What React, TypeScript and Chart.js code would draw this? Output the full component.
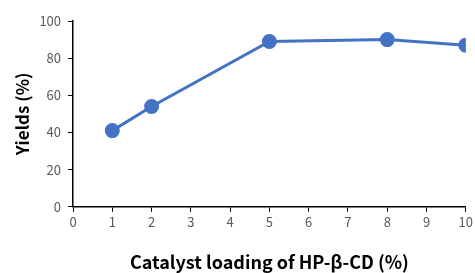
import React, { useEffect, useRef } from "react";
import { Chart, registerables } from "chart.js";

Chart.register(...registerables);

const loadings = [1, 2, 5, 8, 10];
const yields = [41, 54, 89, 90, 87];
const xTitle = "Catalyst loading of HP-β-CD (%)";
const yTitle = "Yields (%)";

export default function App() {
  const ref = useRef<HTMLCanvasElement | null>(null);
  useEffect(() => {
    document.body.style.margin = "0";
    const ctx = ref.current!.getContext("2d")!;
    const chart = new Chart(ctx, {
      type: "line",
      data: {
        datasets: [
          {
            data: loadings.map((x, i) => ({ x, y: yields[i] })),
            borderColor: "#4472C4",
            backgroundColor: "#4472C4",
            borderWidth: 3,
            pointRadius: 6,
            pointBackgroundColor: "#4472C4",
            pointBorderColor: "#4472C4",
            tension: 0,
          },
        ],
      },
      options: {
        animation: false,
        responsive: false,
        maintainAspectRatio: false,
        layout: { padding: { top: 21, left: 12, right: 0, bottom: 0 } },
        plugins: { legend: { display: false }, tooltip: { enabled: false } },
        scales: {
          x: {
            type: "linear",
            min: 0,
            max: 10,
            ticks: {
              stepSize: 1,
              color: "#595959",
              font: { family: "'Noto Sans CJK SC', sans-serif", size: 13 },
              padding: 2,
            },
            grid: {
              drawOnChartArea: false,
              drawTicks: true,
              tickLength: 5,
              color: "#000",
            },
            border: { color: "#000", width: 1.5 },
            title: {
              display: true,
              text: xTitle,
              color: "#000",
              font: { family: "'Noto Sans CJK SC', sans-serif", size: 18, weight: "bold" },
              padding: { top: 20, bottom: 0 },
            },
          },
          y: {
            min: 0,
            max: 100,
            ticks: {
              stepSize: 20,
              color: "#595959",
              font: { family: "'Noto Sans CJK SC', sans-serif", size: 13 },
              padding: 7,
            },
            grid: {
              drawOnChartArea: false,
              drawTicks: true,
              tickLength: 5,
              color: "#000",
            },
            border: { color: "#000", width: 1.5 },
            title: {
              display: true,
              text: yTitle,
              color: "#000",
              font: { family: "'Noto Sans CJK SC', sans-serif", size: 17, weight: "bold" },
              padding: { top: 0, bottom: 0 },
            },
          },
        },
      },
    });
    return () => chart.destroy();
  }, []);
  return (
    <div style={{ position: "absolute", left: 0, top: 0, width: 475, height: 273, overflow: "hidden" }}>
      <canvas ref={ref} width={475} height={273} style={{ display: "block" }} />
    </div>
  );
}
